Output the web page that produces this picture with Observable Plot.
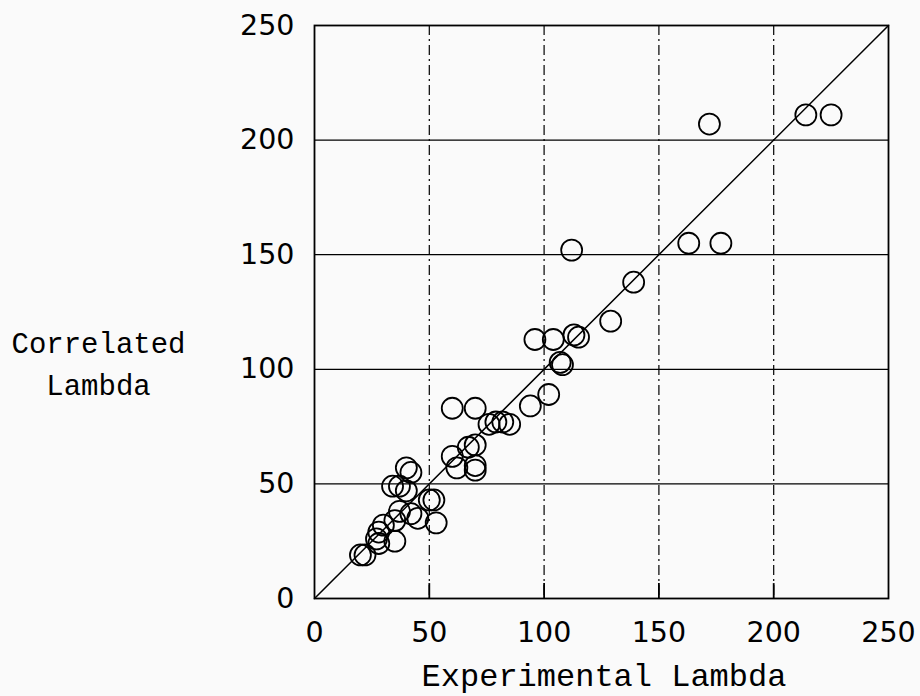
<!DOCTYPE html>
<html>
<head>
<meta charset="utf-8">
<script src="https://cdn.jsdelivr.net/npm/d3@7"></script>
<script src="https://cdn.jsdelivr.net/npm/@observablehq/plot@0.6"></script>
<style>
  html, body { margin: 0; padding: 0; background: #fafafa; }
</style>
</head>
<body>
<div id="chart"></div>
<script>
// Experimental lambda (x) and correlated lambda (y)
const experimental = [22, 20, 28, 27, 28, 30, 35, 35, 37, 42, 45, 53,
  50, 52, 34, 37, 40, 40, 42,
  60, 62, 70, 70, 67, 70,
  60, 70, 76, 79, 82, 85,
  94, 102, 107, 108, 96, 104, 113, 115,
  129, 139, 112, 163, 177, 172, 214, 225];
const correlated = [19, 19, 24, 26, 29, 32, 25, 34, 38, 37, 35, 33,
  43, 43, 49, 49, 47, 57, 55,
  62, 57, 58, 56, 66, 67,
  83, 83, 76, 77, 77, 76,
  84, 89, 103, 102, 113, 113, 115, 114,
  121, 138, 152, 155, 155, 207, 211, 211];
const ticks = [0, 50, 100, 150, 200, 250];
const gridValues = [50, 100, 150, 200];
const diagonal = [0, 250];
const xLabel = "Experimental Lambda";
const yLabelLines = ["Correlated", "Lambda"];

const points = experimental.map((x, i) => ({x, y: correlated[i]}));

const chart = Plot.plot({
  width: 920,
  height: 696,
  marginLeft: 314,
  marginRight: 32,
  marginTop: 25,
  marginBottom: 98,
  style: {background: "#fafafa", color: "black", fontFamily: "DejaVu Sans", fontSize: "28px"},
  x: {domain: [0, 250]},
  y: {domain: [0, 250]},
  marks: [
    Plot.ruleY(gridValues, {stroke: "black", strokeWidth: 1.3}),
    Plot.ruleX(gridValues, {stroke: "black", strokeWidth: 1.2, strokeDasharray: "10,4,2,4"}),
    Plot.ruleX(gridValues, {y1: 0, y2: 6.5, stroke: "black", strokeWidth: 1.8}),
    Plot.line(diagonal, {x: d => d, y: d => d, stroke: "black", strokeWidth: 1.5}),
    Plot.dot(points, {x: "x", y: "y", r: 10.5, stroke: "black", strokeWidth: 1.8, fill: "none"}),
    Plot.frame({stroke: "black", strokeWidth: 1.8}),
    Plot.axisX(ticks, {tickSize: 0, tickPadding: 23, label: null, fontSize: 28.5}),
    Plot.axisY(ticks, {tickSize: 0, tickPadding: 20, label: null, fontSize: 28.5})
  ]
});

document.getElementById("chart").appendChild(chart);

const svg = d3.select(chart);
svg.append("text")
  .attr("x", 604).attr("y", 686)
  .attr("text-anchor", "middle")
  .attr("font-family", "Liberation Mono")
  .attr("font-size", 32)
  .attr("fill", "black")
  .text(xLabel);
const yl = svg.append("text")
  .attr("text-anchor", "middle")
  .attr("font-family", "Liberation Mono")
  .attr("font-size", 29)
  .attr("fill", "black");
yLabelLines.forEach((t, i) => {
  yl.append("tspan").attr("x", 98.5).attr("y", 353 + i * 42).text(t);
});
</script>
</body>
</html>
